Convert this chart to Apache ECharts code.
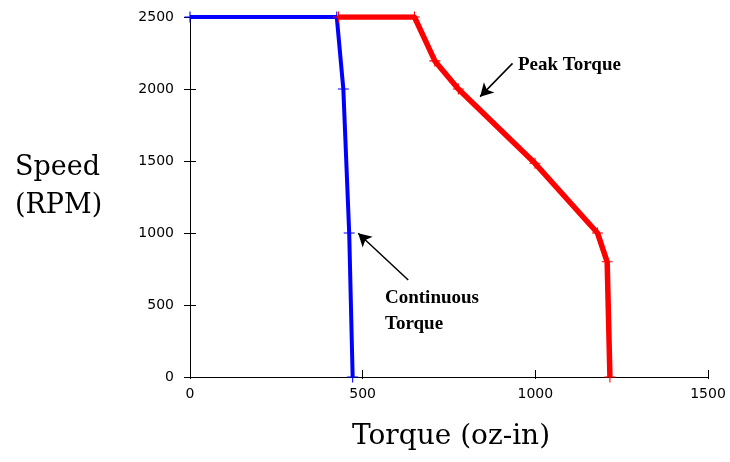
<!DOCTYPE html>
<html>
<head>
<meta charset="utf-8">
<script src="https://cdn.jsdelivr.net/npm/echarts@6/dist/echarts.min.js"></script>
<style>
  html, body { margin: 0; padding: 0; background: #fff; }
  #chart { width: 730px; height: 462px; }
</style>
</head>
<body>
<div id="chart"></div>
<script>
"use strict";

// 连续扭矩曲线 (oz-in / RPM)
const contTorque = [0, 425, 444, 461, 471];
const contSpeed  = [2500, 2500, 2000, 1000, 0];

// 峰值扭矩曲线
const peakTorque = [430, 650, 709, 777, 999, 1180, 1208, 1216];
const peakSpeed  = [2500, 2500, 2195, 2000, 1484, 1000, 800, 0];

// 标注箭头 [尾, 头]
const peakArrow = [[934, 2178], [840, 1947]];
const contArrow = [[632, 674], [487, 998]];

const xTicks = { min: 0, max: 1500, step: 500 };
const yTicks = { min: 0, max: 2500, step: 500 };

const PLUS = "path://M0,4.5H10V5.5H0Z M4.5,0H5.5V10H4.5Z";

function pairs(xs, ys) {
  return xs.map((x, i) => [x, ys[i]]);
}

function arrowLine(a) {
  return [{ coord: a[0] }, { coord: a[1] }];
}

document.addEventListener("DOMContentLoaded", () => {
  const chart = echarts.init(document.getElementById("chart"));

  const tickLabel = { color: "#000", fontFamily: "DejaVu Sans", fontSize: 14, formatter: v => String(v) };
  const arrowStyle = {
    silent: true,
    symbol: ["none", "arrow"],
    symbolSize: [11, 13],
    label: { show: false },
    lineStyle: { color: "#000", width: 1.5, type: "solid" },
    emphasis: { disabled: true }
  };

  chart.setOption({
    animation: false,
    backgroundColor: "#fff",
    grid: { left: 190, right: 22, top: 17, bottom: 85 },
    xAxis: [
      {
        type: "value", min: xTicks.min, max: xTicks.max, interval: xTicks.step,
        axisLine: { lineStyle: { color: "#000", width: 1 } },
        axisTick: { inside: false, length: 2, lineStyle: { color: "#000" } },
        axisLabel: { ...tickLabel, margin: 10 },
        splitLine: { show: false }
      },
      {
        type: "value", position: "bottom", min: xTicks.min, max: xTicks.max, interval: xTicks.step,
        axisLine: { show: false },
        axisTick: { inside: true, length: 7, lineStyle: { color: "#000" } },
        axisLabel: { show: false },
        splitLine: { show: false }
      }
    ],
    yAxis: [
      {
        type: "value", min: yTicks.min, max: yTicks.max, interval: yTicks.step,
        axisLine: { show: true, lineStyle: { color: "#000", width: 1 } },
        axisTick: { show: true, inside: false, length: 6, lineStyle: { color: "#000" } },
        axisLabel: { ...tickLabel, margin: 16 },
        splitLine: { show: false }
      },
      {
        type: "value", position: "left", min: yTicks.min, max: yTicks.max, interval: yTicks.step,
        axisLine: { show: false },
        axisTick: { show: true, inside: true, length: 6, lineStyle: { color: "#000" } },
        axisLabel: { show: false },
        splitLine: { show: false }
      }
    ],
    series: [
      {
        name: "Continuous Torque", type: "line",
        data: pairs(contTorque, contSpeed),
        symbol: PLUS, symbolSize: 11,
        itemStyle: { color: "#0000FF" },
        lineStyle: { color: "#0000FF", width: 4 },
        markLine: { ...arrowStyle, data: [arrowLine(contArrow)] },
        z: 2
      },
      {
        name: "Peak Torque", type: "line",
        data: pairs(peakTorque, peakSpeed),
        symbol: PLUS, symbolSize: 11,
        itemStyle: { color: "#FF0000" },
        lineStyle: { color: "#FF0000", width: 5.5 },
        markLine: { ...arrowStyle, data: [arrowLine(peakArrow)] },
        z: 3
      }
    ],
    graphic: [
      {
        type: "text", left: 15, top: 149,
        style: { text: "Speed\n(RPM)", font: "27px 'DejaVu Serif'", fill: "#000", lineHeight: 38 }
      },
      {
        type: "text", left: 352, top: 423,
        style: { text: "Torque (oz-in)", font: "28px 'DejaVu Serif'", fill: "#000" }
      },
      {
        type: "text", left: 518, top: 56,
        style: { text: "Peak Torque", font: "bold 19px 'Liberation Serif'", fill: "#000" }
      },
      {
        type: "text", left: 385, top: 285,
        style: { text: "Continuous\nTorque", font: "bold 19px 'Liberation Serif'", fill: "#000", lineHeight: 26 }
      }
    ]
  });
});
</script>
</body>
</html>
